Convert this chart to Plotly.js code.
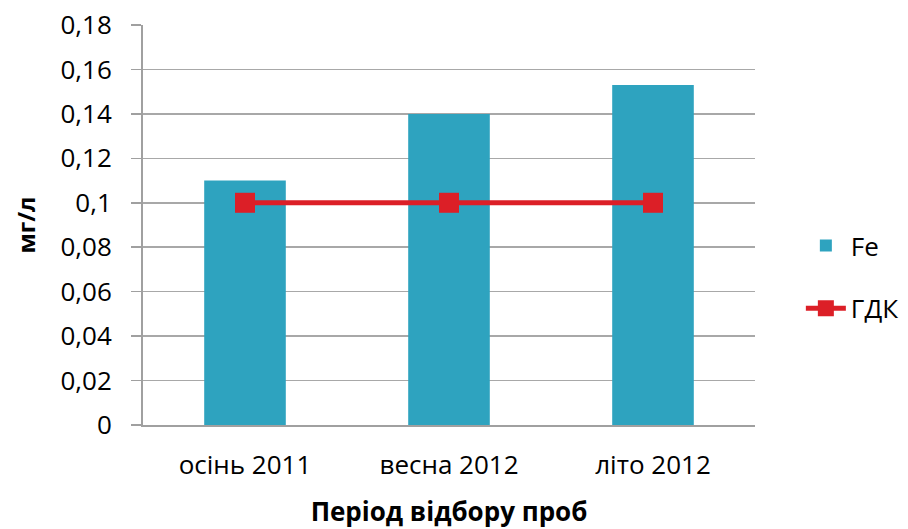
<!DOCTYPE html>
<html>
<head>
<meta charset="utf-8">
<script src="https://cdn.plot.ly/plotly-3.0.1.min.js"></script>
<style>html,body{margin:0;padding:0;background:#fff;}#chart{width:908px;height:529px;}</style>
</head>
<body>
<div id="chart"></div>
<script>
const categories = ["осінь 2011", "весна 2012", "літо 2012"];
const feValues = [0.11, 0.14, 0.153];
const gdkValues = [0.1, 0.1, 0.1];
const seriesNames = ["Fe", "ГДК"];

const FONT = "Open Sans, Noto Sans, sans-serif";
const FS = 26;

const traces = [
  {
    type: "bar",
    name: seriesNames[0],
    x: categories,
    y: feValues,
    marker: {color: "#2ea3bf"},
    legendgroup: "a",
    hoverinfo: "none"
  },
  {
    type: "scatter",
    mode: "lines+markers",
    name: seriesNames[1],
    x: categories,
    y: gdkValues,
    line: {color: "#dc1f27", width: 5},
    marker: {color: "#dc1f27", symbol: "square", size: 20},
    legendgroup: "b",
    hoverinfo: "none"
  }
];

const layout = {
  width: 908,
  height: 529,
  margin: {l: 143, r: 153, t: 25, b: 104},
  paper_bgcolor: "#ffffff",
  plot_bgcolor: "#ffffff",
  separators: ", ",
  bargap: 0.6,
  font: {family: FONT, size: FS, color: "#000"},
  showlegend: true,
  legend: {
    xref: "container",
    x: 0.882, xanchor: "left",
    y: 0.37, yanchor: "middle",
    traceorder: "grouped",
    tracegroupgap: 26,
    font: {family: FONT, size: FS, color: "#000"},
    itemwidth: 40
  },
  xaxis: {
    type: "category",
    showgrid: false,
    showline: true,
    linecolor: "#a0a0a0",
    linewidth: 2,
    ticks: "",
    ticklabelstandoff: 16,
    tickfont: {family: FONT, size: FS},
    title: {text: "Період відбору проб", font: {family: FONT, size: FS, color: "#000", weight: "bold"}, standoff: 25}
  },
  yaxis: {
    range: [0, 0.18],
    dtick: 0.02,
    tick0: 0,
    showgrid: true,
    gridcolor: "#a8a8a8",
    gridwidth: 1.5,
    zeroline: false,
    showline: true,
    linecolor: "#a0a0a0",
    linewidth: 2,
    ticks: "outside",
    ticklen: 10,
    tickcolor: "#a0a0a0",
    tickwidth: 1.5,
    ticklabelstandoff: 14,
    tickfont: {family: FONT, size: FS},
    title: {text: "мг/л", font: {family: FONT, size: 24, color: "#000", weight: "bold"}, standoff: 18}
  }
};

Plotly.newPlot("chart", traces, layout, {displayModeBar: false, staticPlot: true});
</script>
</body>
</html>
